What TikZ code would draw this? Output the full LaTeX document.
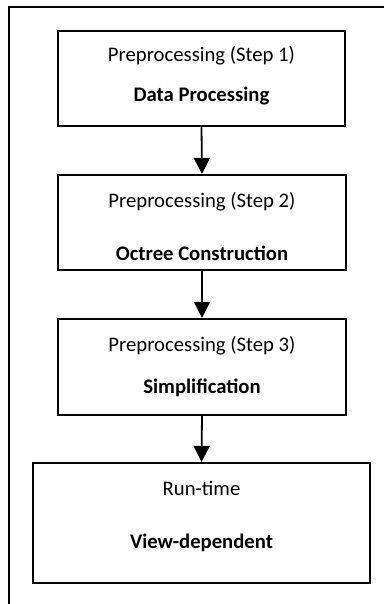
\documentclass[tikz,border=0pt]{standalone}
\usepackage{fontspec}
\setmainfont{Carlito}
\usetikzlibrary{arrows.meta}
\begin{document}
\begin{tikzpicture}[x=1bp,y=-1bp,
  stagebox/.style={draw=black,line width=2.2bp,minimum width=#1,inner sep=0pt},
  lbl/.style={anchor=base,inner sep=0pt,font=\fontsize{20.7bp}{25bp}\selectfont},
  blbl/.style={lbl,font=\fontsize{20.7bp}{25bp}\selectfont\bfseries},
  flow/.style={line width=1.8bp,-{Triangle[width=16bp,length=16bp]}}]
\useasboundingbox (0,0) rectangle (384,604);

% open frame along the top and left edges
\coordinate (frameTR) at (384,7);
\coordinate (frameTL) at (9,7);
\coordinate (frameBL) at (9,604);
\draw[line width=2bp] (frameTR) -- (frameTL) -- (frameBL);

% stage boxes
\node[stagebox=287bp,minimum height=95bp] (s1) at (201.5,78.5) {};
\node[stagebox=288bp,minimum height=95bp] (s2) at (202,222.5) {};
\node[stagebox=288bp,minimum height=96bp] (s3) at (202,367) {};
\node[stagebox=337bp,minimum height=120bp] (s4) at (201.5,523) {};

% stage labels
\node[lbl]  (t1) at (201.5,62)  {Preprocessing (Step 1)};
\node[blbl] (b1) at (201.5,102) {Data Processing};
\node[lbl]  (t2) at (202,207)   {Preprocessing (Step 2)};
\node[blbl] (b2) at (202,260)   {Octree Construction};
\node[lbl]  (t3) at (202,351)   {Preprocessing (Step 3)};
\node[blbl] (b3) at (202,393)   {Simplification};
\node[lbl]  (t4) at (201.5,495) {Run-time};
\node[blbl] (b4) at (201.5,548) {View-dependent};

% flow between stages
\draw[flow] (s1.south) -- (s2.north);
\draw[flow] (s2.south) -- (s3.north);
\draw[flow] (s3.south) -- (s4.north);
\end{tikzpicture}
\end{document}
